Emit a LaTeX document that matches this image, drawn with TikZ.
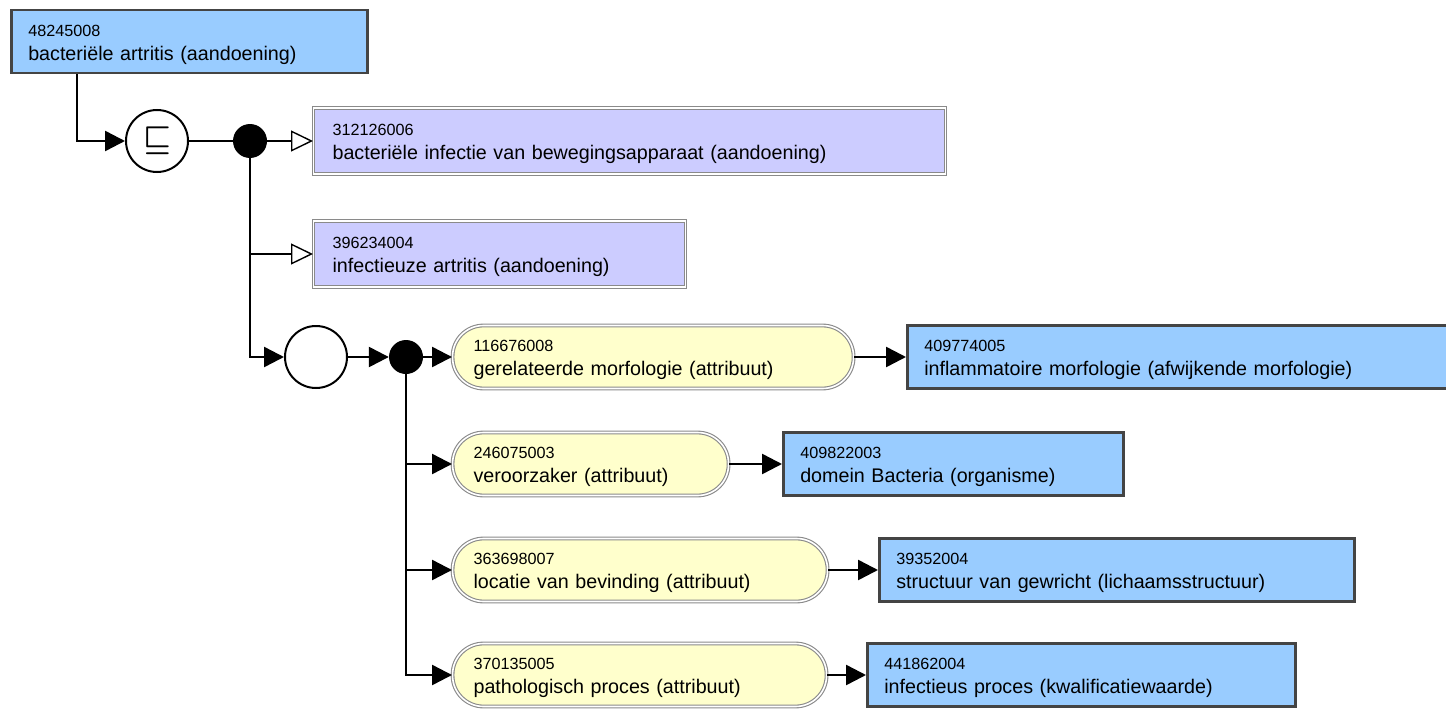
\documentclass[tikz,border=0pt]{standalone}
\usepackage{fontspec}
\usepackage{graphicx}
\setmainfont{Liberation Sans}
\usetikzlibrary{arrows.meta, positioning, calc}

\definecolor{conceptblue}{HTML}{99CCFF}
\definecolor{primitive}{HTML}{CCCCFF}
\definecolor{attrfill}{HTML}{FFFFCC}
\definecolor{rimgray}{HTML}{8A8A8A}
\definecolor{darkrim}{HTML}{444444}

\newcommand{\codesize}{\fontsize{16.2}{24}\selectfont}
\newcommand{\labelsize}{\fontsize{19.7}{24}\selectfont}

\tikzset{
    concept/.style={rectangle, draw=darkrim, line width=2.5pt, fill=conceptblue,
        anchor=west, minimum height=63pt, inner xsep=17pt, align=left,
        text height=17.5pt, font=\labelsize},
    defined/.style={rectangle, draw=rimgray, double=white, double distance=1.6pt,
        line width=1.1pt, fill=primitive, anchor=west, minimum height=66pt,
        inner xsep=19pt, align=left, text height=17.5pt, font=\labelsize},
    attribute/.style={rectangle, rounded corners=31pt, draw=rimgray, double=white,
        double distance=1.6pt, line width=1.1pt, fill=attrfill, anchor=west,
        minimum height=63pt, inner xsep=21pt, align=left, text height=17.5pt,
        font=\labelsize},
    operator/.style={circle, draw, line width=2pt, fill=white, minimum size=62pt, inner sep=0pt},
    conj/.style={circle, fill=black, minimum size=34pt, inner sep=0pt},
    link/.style={line width=2.5pt, -{Triangle[length=20pt, width=20pt]}},
    isa/.style={line width=1.6pt, -{Triangle[open, length=22pt, width=21pt, line width=1.4pt]}},
}

\begin{document}
\begin{tikzpicture}[x=1pt, y=-1pt]
    \useasboundingbox (0,0) rectangle (1446,709);

    % focus concept and its definition status
    \node[concept, text width=322pt] (b1) at (10,41.5) {{\codesize 48245008}\\bacteriële artritis (aandoening)};
    \node[operator] (subs) at (157,141) {\fontsize{10}{10}\selectfont\scalebox{3.1}{\boldmath$\sqsubseteq$}};
    \node[conj] (d1) at (250,141) {};

    % parents
    \node[defined, text width=594pt] (p1) at (313,141) {{\codesize 312126006}\\bacteriële infectie van bewegingsapparaat (aandoening)};
    \node[defined, text width=334pt] (p2) at (313,254) {{\codesize 396234004}\\infectieuze artritis (aandoening)};

    % role group
    \node[operator] (grp) at (316,357) {};
    \node[conj] (d2) at (406,357) {};

    \draw[link] (b1.south west) ++(67,0) |- (subs);
    \draw[line width=1.4pt] (subs) -- (d1);
    \draw[isa] (d1) -- (p1);
    \draw[isa] (d1 |- p2) -- (p2);
    \draw[link] (d1) |- (grp);
    \draw[link] (grp) -- (d2);

    % attributes and their values
    \foreach \i/\y/\aw/\vx/\vw/\ac/\al/\vc/\vl in {
        1/357/359/906/514/116676008/{gerelateerde morfologie (attribuut)}/409774005/{inflammatoire morfologie (afwijkende morfologie)},
        2/464/234/782/306/246075003/{veroorzaker (attribuut)}/409822003/{domein Bacteria (organisme)},
        3/570/333/878/441/363698007/{locatie van bevinding (attribuut)}/39352004/{structuur van gewricht (lichaamsstructuur)},
        4/675/332/866/394/370135005/{pathologisch proces (attribuut)}/441862004/{infectieus proces (kwalificatiewaarde)}
    } {
        \node[attribute, text width=\aw pt] (a\i) at (452,\y) {{\codesize \ac}\\\al};
        \node[concept, text width=\vw pt] (v\i) at (\vx,\y) {{\codesize \vc}\\\vl};
        \draw[link] (d2) |- (a\i);
        \draw[link] (a\i) -- (v\i);
    }
\end{tikzpicture}
\end{document}
